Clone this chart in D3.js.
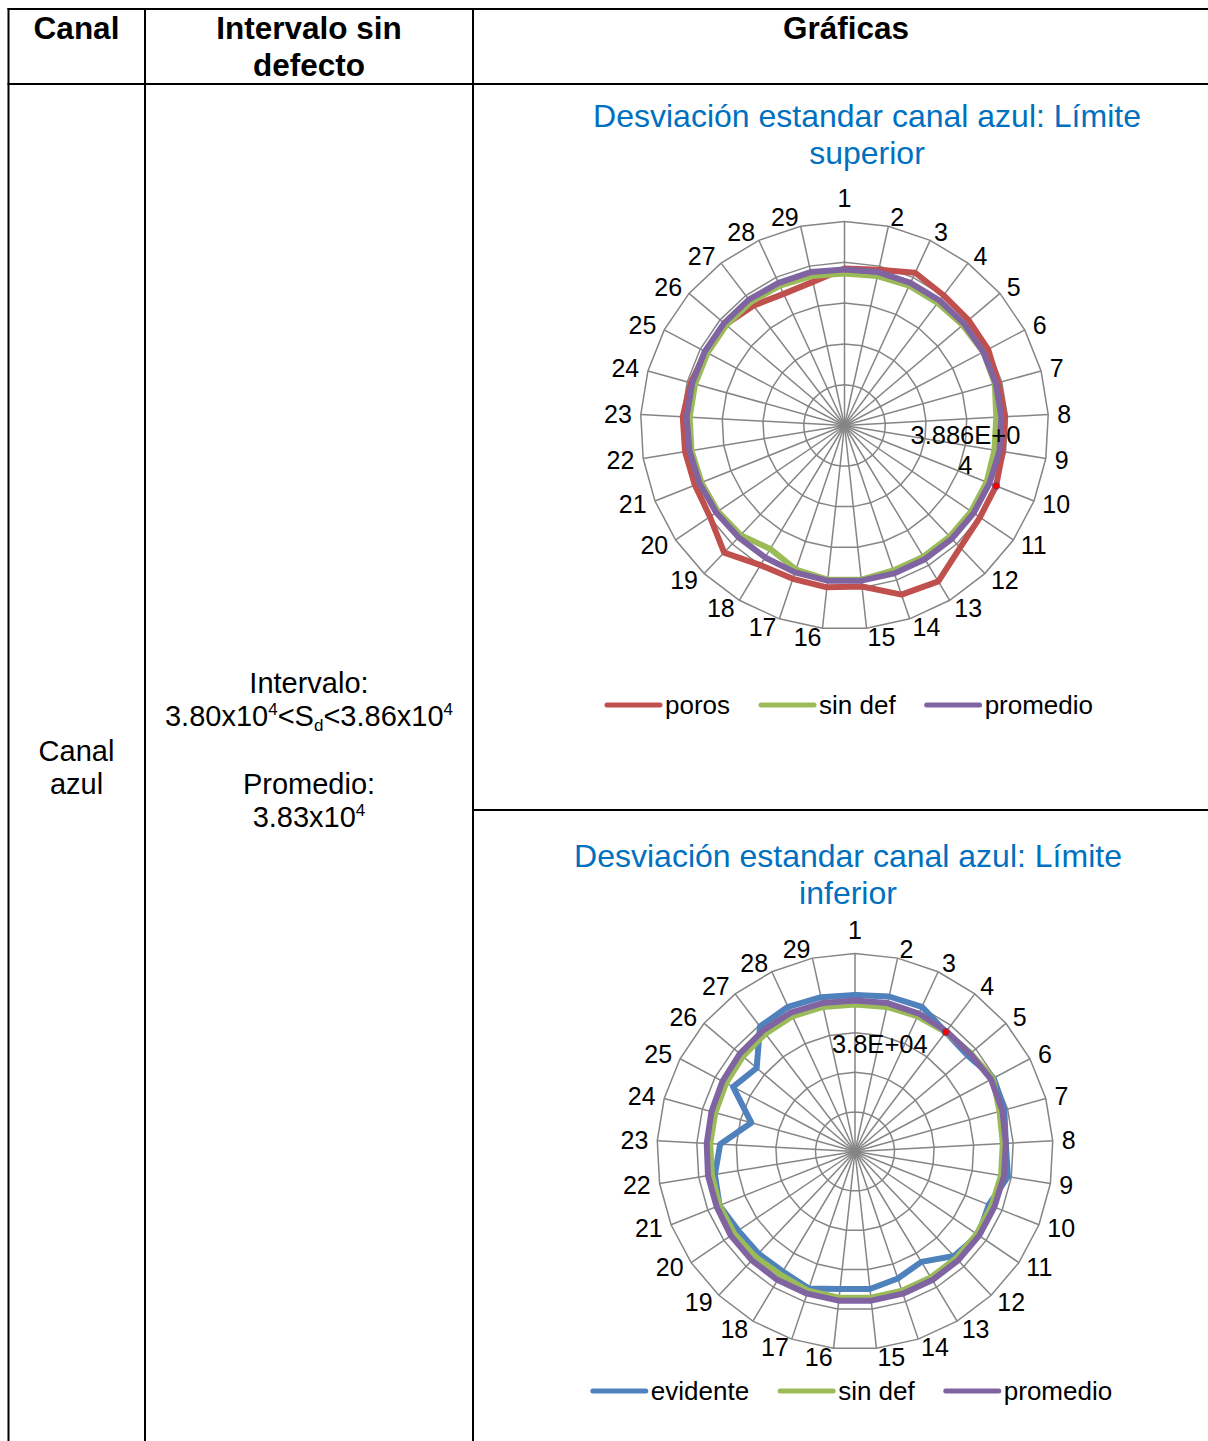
<!DOCTYPE html>
<html><head><meta charset="utf-8">
<script src="https://cdn.jsdelivr.net/npm/d3@7"></script>
<style>
body{margin:0;background:#fff}
svg{display:block}
text{font-family:"Liberation Sans",Arial,sans-serif}
</style>
</head><body>
<svg id="c" width="1208" height="1441"></svg>
<script>
// ---------- DATA ----------
const categories = ["1","2","3","4","5","6","7","8","9","10","11","12","13","14","15","16","17","18","19","20","21","22","23","24","25","26","27","28","29"];

// Chart 1: Límite superior
const supTicks = [38780, 38800, 38820, 38840, 38860, 38880];
const supPoros = [38857.0,38858.2,38862.5,38860.2,38859.8,38859.7,38858.3,38858.8,38858.6,38860.0,38860.2,38862.4,38869.2,38867.5,38859.4,38859.8,38859.3,38859.9,38865.8,38859.7,38858.9,38859.2,38859.4,38858.2,38857.0,38856.5,38853.8,38851.1,38852.1];
const supSinDef = [38854.5,38855.0,38855.5,38855.5,38856.0,38857.0,38856.5,38854.5,38854.5,38855.0,38855.0,38855.0,38855.0,38855.0,38856.0,38856.0,38854.5,38850.6,38854.0,38855.0,38855.5,38856.0,38856.0,38856.0,38856.0,38856.0,38856.0,38855.5,38855.0];
const supPromedio = [38856.5,38857.0,38857.0,38857.0,38857.0,38857.0,38857.0,38857.0,38857.0,38856.5,38856.5,38856.5,38856.5,38856.5,38856.5,38856.5,38856.0,38855.5,38855.5,38856.0,38856.5,38857.0,38857.5,38857.5,38857.5,38857.5,38857.5,38857.0,38857.0];
const supSeriesNames = ["poros","sin def","promedio"];
const supLabelLines = ["3.886E+0","4"];

// Chart 2: Límite inferior
const infTicks = [37800, 37850, 37900, 37950, 38000, 38050];
const infEvidente = [37997.6,38000.4,38001.3,37989.4,37986.9,37998.2,37995.7,37990.7,37995.7,37981.8,37988.1,37981.8,37962.6,37969.2,37974.6,37974.6,37982.6,37976.8,37977.4,37978.0,37984.1,37979.3,37970.5,37935.9,37974.2,37962.9,37998.2,38001.3,37999.5];
const infSinDef = [37985.6,37986.9,37988.1,37989.4,37991.9,37997.0,37989.4,37986.9,37986.9,37985.6,37985.6,37985.6,37985.6,37985.6,37985.6,37985.6,37985.6,37981.8,37983.1,37984.3,37984.3,37983.1,37983.1,37983.1,37984.3,37985.6,37986.9,37988.1,37986.9];
const infPromedio = [37990.7,37991.9,37991.9,37990.7,37990.7,37994.4,37993.2,37990.7,37990.7,37989.4,37989.4,37989.4,37989.4,37989.4,37989.4,37989.4,37989.4,37989.4,37989.4,37989.4,37988.1,37988.1,37987.5,37988.1,37989.4,37990.7,37991.9,37993.2,37991.9];
const infSeriesNames = ["evidente","sin def","promedio"];
const infLabelLines = ["3.8E+04"];

// Table text
const headers = ["Canal", ["Intervalo sin","defecto"], "Gráficas"];
const canalLines = ["Canal","azul"];

// ---------- DRAW ----------
const svg = d3.select("#c");

// Table borders
const tb = svg.append("g").attr("stroke","#000").attr("stroke-width",2);
const colX = [8.5, 145, 473];
tb.append("line").attr("x1",7.5).attr("x2",1208).attr("y1",9).attr("y2",9);
tb.append("line").attr("x1",7.5).attr("x2",1208).attr("y1",84).attr("y2",84);
tb.append("line").attr("x1",473).attr("x2",1208).attr("y1",810).attr("y2",810);
colX.forEach(x=>tb.append("line").attr("x1",x).attr("x2",x).attr("y1",8).attr("y2",1441));

// Header texts
const hd = svg.append("g").attr("font-weight","bold").attr("font-size",31.5).attr("text-anchor","middle").attr("fill","#000");
hd.append("text").attr("x",76.5).attr("y",39).text(headers[0]);
hd.append("text").attr("x",309).attr("y",39).text(headers[1][0]);
hd.append("text").attr("x",309).attr("y",75.5).text(headers[1][1]);
hd.append("text").attr("x",846).attr("y",39).text(headers[2]);

// Body texts
const bd = svg.append("g").attr("font-size",29).attr("text-anchor","middle").attr("fill","#000");
bd.append("text").attr("x",76.5).attr("y",761).text(canalLines[0]);
bd.append("text").attr("x",76.5).attr("y",794).text(canalLines[1]);
bd.append("text").attr("x",309).attr("y",693).text("Intervalo:");
const t2 = bd.append("text").attr("x",309).attr("y",726);
t2.append("tspan").text("3.80x10");
t2.append("tspan").attr("font-size",17).attr("dy",-11).text("4");
t2.append("tspan").attr("dy",11).text("<S");
t2.append("tspan").attr("font-size",17).attr("dy",5).text("d");
t2.append("tspan").attr("dy",-5).text("<3.86x10");
t2.append("tspan").attr("font-size",17).attr("dy",-11).text("4");
bd.append("text").attr("x",309).attr("y",794).text("Promedio:");
const t3 = bd.append("text").attr("x",309).attr("y",827);
t3.append("tspan").text("3.83x10");
t3.append("tspan").attr("font-size",17).attr("dy",-11).text("4");

function radar(cfg){
  const g = svg.append("g").attr("transform",`translate(${cfg.cx},${cfg.cy})`);
  const n = categories.length;
  const ang = d3.scaleLinear().domain([0,n]).range([0,2*Math.PI]);
  const r = d3.scaleLinear().domain(d3.extent(cfg.ticks)).range([0,cfg.R]);
  const grid = g.append("g").attr("fill","none").attr("stroke","#858585").attr("stroke-width",1.5);
  const ringLine = d3.lineRadial().angle((d,i)=>ang(i)).radius(d=>d).curve(d3.curveLinearClosed);
  cfg.ticks.slice(1).forEach(t=>{
    grid.append("path").attr("d", ringLine(categories.map(()=>r(t))));
  });
  const rMax = r(cfg.ticks[cfg.ticks.length-1]);
  categories.forEach((c,i)=>{
    const a = ang(i);
    grid.append("line").attr("x1",0).attr("y1",0)
      .attr("x2", rMax*Math.sin(a)).attr("y2", -rMax*Math.cos(a));
  });
  // category labels
  const lab = g.append("g").attr("font-size",25).attr("fill","#000");
  categories.forEach((c,i)=>{
    const a = ang(i), rr = cfg.R + 9;
    const x = rr*Math.sin(a), y = -rr*Math.cos(a);
    const s = Math.sin(a);
    const anchor = Math.abs(s) < 0.01 ? "middle" : (s>0 ? "start" : "end");
    lab.append("text").attr("x",x).attr("y", anchor==="middle" ? y-14.5 : y)
      .attr("dy","0.35em").attr("text-anchor",anchor).text(c);
  });
  // series
  const line = d3.lineRadial().angle((d,i)=>ang(i)).radius(d=>r(d)).curve(d3.curveLinearClosed);
  cfg.series.forEach(s=>{
    g.append("path").attr("d", line(s.values)).attr("fill","none")
      .attr("stroke", s.color).attr("stroke-width",6).attr("stroke-linejoin","round");
  });
  // marker + data label
  const ms = cfg.series[cfg.marker.series];
  const mi = cfg.marker.index;
  const mx = r(ms.values[mi])*Math.sin(ang(mi)), my = -r(ms.values[mi])*Math.cos(ang(mi));
  g.append("circle").attr("cx",mx).attr("cy",my).attr("r",3.6).attr("fill","#ff0000").attr("stroke","#3b5ea8").attr("stroke-width",0.8);
  const lt = g.append("g").attr("font-size",25.5).attr("fill","#000").attr("text-anchor","middle");
  cfg.marker.lines.forEach((l,k)=>{
    lt.append("text").attr("x", mx + cfg.marker.dx).attr("y", my + cfg.marker.dy + k*30).text(l);
  });
  // title
  const tt = svg.append("g").attr("font-size",32).attr("fill","#0070C0").attr("text-anchor","middle");
  cfg.title.forEach((l,k)=>tt.append("text").attr("x",cfg.titleX).attr("y",cfg.titleY + k*37).text(l));
  // legend
  const lg = svg.append("g");
  const items = cfg.series.map(s=>{
    const it = lg.append("g");
    it.append("line").attr("x1",0).attr("x2",53).attr("y1",0).attr("y2",0)
      .attr("stroke",s.color).attr("stroke-width",5).attr("stroke-linecap","round");
    const tx = it.append("text").attr("x",58).attr("y",0).attr("dy","0.35em")
      .attr("font-size",26).attr("fill","#000").text(s.name);
    return {it, w: 58 + tx.node().getComputedTextLength()};
  });
  const gap = 31;
  const total = d3.sum(items, d=>d.w) + gap*(items.length-1);
  let x0 = cfg.legendCX - total/2;
  items.forEach(d=>{ d.it.attr("transform",`translate(${x0},${cfg.legendY})`); x0 += d.w + gap; });
}

radar({
  cx: 844.5, cy: 425.5, R: 204, ticks: supTicks,
  series: [
    {name: supSeriesNames[0], values: supPoros, color: "#C0504D"},
    {name: supSeriesNames[1], values: supSinDef, color: "#9BBB59"},
    {name: supSeriesNames[2], values: supPromedio, color: "#8064A2"}
  ],
  marker: {series: 0, index: 9, lines: supLabelLines, dx: -30.7, dy: -42.4},
  title: ["Desviación estandar canal azul: Límite","superior"], titleX: 867, titleY: 126.5,
  legendY: 705, legendCX: 850
});

radar({
  cx: 855, cy: 1151.5, R: 198, ticks: infTicks,
  series: [
    {name: infSeriesNames[0], values: infEvidente, color: "#4F81BD"},
    {name: infSeriesNames[1], values: infSinDef, color: "#9BBB59"},
    {name: infSeriesNames[2], values: infPromedio, color: "#8064A2"}
  ],
  marker: {series: 0, index: 3, lines: infLabelLines, dx: -66, dy: 21.3},
  title: ["Desviación estandar canal azul: Límite","inferior"], titleX: 848, titleY: 866.5,
  legendY: 1391, legendCX: 852.5
});
</script>
</body></html>
